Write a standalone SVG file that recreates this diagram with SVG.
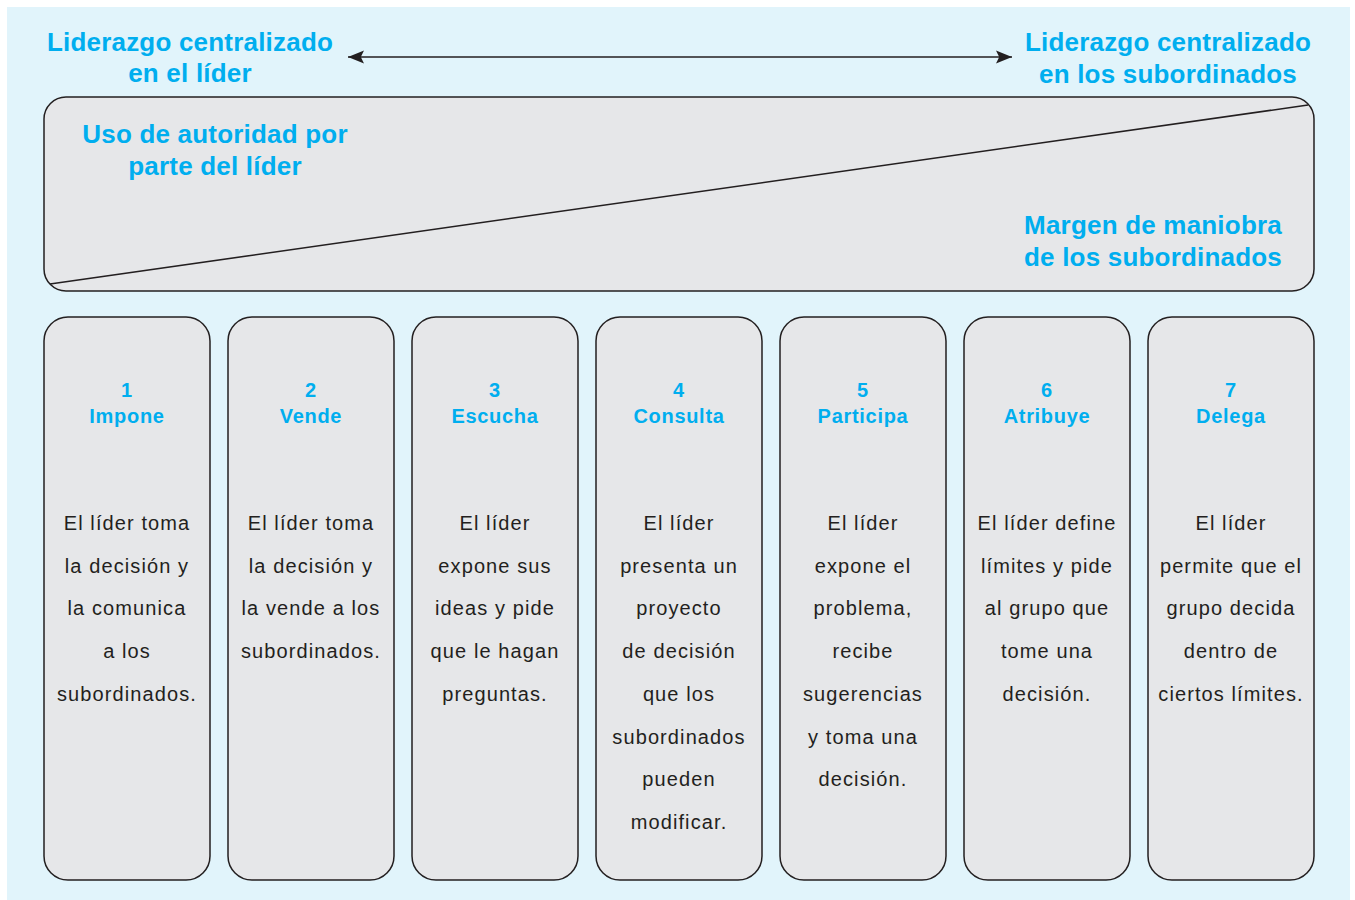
<svg xmlns="http://www.w3.org/2000/svg" width="1355" height="900" viewBox="0 0 1355 900">
<defs>
<style>
.box{fill:#e6e7e9;stroke:#231f20;stroke-width:1.5}
.h{font-family:"Liberation Sans",Arial,sans-serif;font-weight:bold;fill:#00aeef;text-anchor:middle}
.hl{font-size:26px;letter-spacing:0.2px}
.hc{font-size:20px;letter-spacing:0.7px}
.b{font-family:"Liberation Sans",Arial,sans-serif;font-size:20px;fill:#231f20;text-anchor:middle;letter-spacing:1.1px}
</style>
<marker id="ah" viewBox="0 0 10 10" refX="10" refY="5" markerWidth="16" markerHeight="16" markerUnits="userSpaceOnUse" orient="auto-start-reverse">
<path d="M0,1 L10,5 L0,9 L2,5 Z" fill="#231f20"/>
</marker>
</defs>
<rect x="0" y="0" width="1355" height="900" fill="#ffffff"/>
<rect x="7" y="7" width="1343" height="893" fill="#e1f4fb"/>
<g id="header-left">
<text class="h hl" x="190" y="51">Liderazgo centralizado</text>
<text class="h hl" x="190" y="82">en el líder</text>
</g>
<g id="header-right">
<text class="h hl" x="1168" y="51">Liderazgo centralizado</text>
<text class="h hl" x="1168" y="83">en los subordinados</text>
</g>
<g id="connectors">
<line x1="348" y1="57" x2="1012" y2="57" stroke="#231f20" stroke-width="1.5" marker-start="url(#ah)" marker-end="url(#ah)"/>
</g>
<g id="authority-box">
<rect class="box" x="44" y="97" width="1270" height="194" rx="22"/>
<line x1="50" y1="284" x2="1308" y2="105" stroke="#231f20" stroke-width="1.5"/>
<text class="h hl" x="215" y="143">Uso de autoridad por</text>
<text class="h hl" x="215" y="175">parte del líder</text>
<text class="h hl" x="1153" y="234">Margen de maniobra</text>
<text class="h hl" x="1153" y="266">de los subordinados</text>
</g>
<g id="col1">
<rect class="box" x="44" y="317" width="166" height="563" rx="24"/>
<text class="h hc" x="127" y="397">1</text><text class="h hc" x="127" y="423">Impone</text>
<text class="b" x="127" y="530">El líder toma</text><text class="b" x="127" y="573">la decisión y</text><text class="b" x="127" y="615">la comunica</text><text class="b" x="127" y="658">a los</text><text class="b" x="127" y="701">subordinados.</text>
</g>
<g id="col2">
<rect class="box" x="228" y="317" width="166" height="563" rx="24"/>
<text class="h hc" x="311" y="397">2</text><text class="h hc" x="311" y="423">Vende</text>
<text class="b" x="311" y="530">El líder toma</text><text class="b" x="311" y="573">la decisión y</text><text class="b" x="311" y="615">la vende a los</text><text class="b" x="311" y="658">subordinados.</text>
</g>
<g id="col3">
<rect class="box" x="412" y="317" width="166" height="563" rx="24"/>
<text class="h hc" x="495" y="397">3</text><text class="h hc" x="495" y="423">Escucha</text>
<text class="b" x="495" y="530">El líder</text><text class="b" x="495" y="573">expone sus</text><text class="b" x="495" y="615">ideas y pide</text><text class="b" x="495" y="658">que le hagan</text><text class="b" x="495" y="701">preguntas.</text>
</g>
<g id="col4">
<rect class="box" x="596" y="317" width="166" height="563" rx="24"/>
<text class="h hc" x="679" y="397">4</text><text class="h hc" x="679" y="423">Consulta</text>
<text class="b" x="679" y="530">El líder</text><text class="b" x="679" y="573">presenta un</text><text class="b" x="679" y="615">proyecto</text><text class="b" x="679" y="658">de decisión</text><text class="b" x="679" y="701">que los</text><text class="b" x="679" y="744">subordinados</text><text class="b" x="679" y="786">pueden</text><text class="b" x="679" y="829">modificar.</text>
</g>
<g id="col5">
<rect class="box" x="780" y="317" width="166" height="563" rx="24"/>
<text class="h hc" x="863" y="397">5</text><text class="h hc" x="863" y="423">Participa</text>
<text class="b" x="863" y="530">El líder</text><text class="b" x="863" y="573">expone el</text><text class="b" x="863" y="615">problema,</text><text class="b" x="863" y="658">recibe</text><text class="b" x="863" y="701">sugerencias</text><text class="b" x="863" y="744">y toma una</text><text class="b" x="863" y="786">decisión.</text>
</g>
<g id="col6">
<rect class="box" x="964" y="317" width="166" height="563" rx="24"/>
<text class="h hc" x="1047" y="397">6</text><text class="h hc" x="1047" y="423">Atribuye</text>
<text class="b" x="1047" y="530">El líder define</text><text class="b" x="1047" y="573">límites y pide</text><text class="b" x="1047" y="615">al grupo que</text><text class="b" x="1047" y="658">tome una</text><text class="b" x="1047" y="701">decisión.</text>
</g>
<g id="col7">
<rect class="box" x="1148" y="317" width="166" height="563" rx="24"/>
<text class="h hc" x="1231" y="397">7</text><text class="h hc" x="1231" y="423">Delega</text>
<text class="b" x="1231" y="530">El líder</text><text class="b" x="1231" y="573">permite que el</text><text class="b" x="1231" y="615">grupo decida</text><text class="b" x="1231" y="658">dentro de</text><text class="b" x="1231" y="701">ciertos límites.</text>
</g>
</svg>
